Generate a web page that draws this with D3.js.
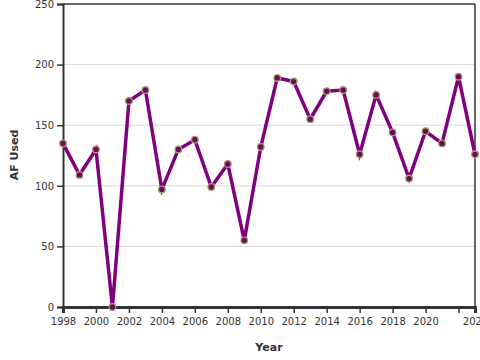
<!DOCTYPE html>
<html><head><meta charset="utf-8">
<script src="https://cdn.jsdelivr.net/npm/d3@7"></script>
<style>body{margin:0;background:#fff;} text{font-family:"DejaVu Sans",sans-serif;}</style>
</head><body><svg id="c" width="480" height="360"></svg>
<script>
const years = [1998,1999,2000,2001,2002,2003,2004,2005,2006,2007,2008,2009,2010,2011,2012,2013,2014,2015,2016,2017,2018,2019,2020,2021,2022,2023];
const afUsed = [135,109,130,0,170,179,97,130,138,99,118,55,132,189,186,155,178,179,126,175,144,106,145,135,190,126];
const yTicks = [0,50,100,150,200,250];
const xTicks = [1998,2000,2002,2004,2006,2008,2010,2012,2014,2016,2018,2020,2022,2023];

const svg = d3.select("#c");
const m = {l:63, r:475, t:4, b:307};
const x = d3.scaleLinear().domain([1998,2023]).range([m.l, m.r]);
const y = d3.scaleLinear().domain([0,250]).range([m.b, m.t]);

// grid
svg.append("g").selectAll("line").data(yTicks.filter(d=>d>0&&d<250)).join("line")
  .attr("x1", m.l).attr("x2", m.r).attr("y1", d=>y(d)).attr("y2", d=>y(d))
  .attr("stroke", "#d8d8d8").attr("stroke-width", 1);

// frame top/right
svg.append("line").attr("x1", m.l).attr("x2", m.r).attr("y1", m.t).attr("y2", m.t).attr("stroke","#333").attr("stroke-width",1.5);
svg.append("line").attr("x1", m.r).attr("x2", m.r).attr("y1", m.t).attr("y2", m.b).attr("stroke","#333").attr("stroke-width",1.5);

// axes
const yAxis = svg.append("g").attr("transform", `translate(${m.l},0)`)
  .call(d3.axisLeft(y).tickValues(yTicks).tickSize(6).tickPadding(3));
yAxis.select(".domain").attr("stroke","#333").attr("stroke-width",2);
yAxis.selectAll(".tick line").attr("stroke","#333").attr("stroke-width",1.5);
yAxis.selectAll("text").attr("font-size",10).attr("fill","#333");

const xAxis = svg.append("g").attr("transform", `translate(0,${m.b})`)
  .call(d3.axisBottom(x).tickValues(xTicks).tickFormat(d => d===2022 ? "" : String(d)).tickSize(6).tickPadding(5));
xAxis.select(".domain").attr("stroke","#333").attr("stroke-width",3);
xAxis.selectAll(".tick line").attr("stroke","#333").attr("stroke-width",1.5);
xAxis.selectAll(".tick").filter(d=>d===2023).select("line").remove();
xAxis.selectAll("text").attr("font-size",10).attr("fill","#333");

// line
const line = d3.line().x((d,i)=>x(years[i])).y(d=>y(d));
svg.append("path").datum(afUsed).attr("d", line).attr("fill","none")
  .attr("stroke","#800080").attr("stroke-width",3.5).attr("stroke-linejoin","miter");

svg.append("g").selectAll("circle").data(afUsed).join("circle")
  .attr("cx",(d,i)=>x(years[i])).attr("cy",d=>y(d)).attr("r",3.3)
  .attr("fill","#6b0a5e").attr("stroke","#a39a6a").attr("stroke-width",1.3);

// titles
svg.append("text").attr("x", 269).attr("y", 351).attr("text-anchor","middle")
  .attr("font-size",11).attr("font-weight","bold").attr("fill","#333").text("Year");
svg.append("text").attr("transform","translate(18,155) rotate(-90)").attr("text-anchor","middle")
  .attr("font-size",11).attr("font-weight","bold").attr("fill","#333").text("AF Used");
</script></body></html>
